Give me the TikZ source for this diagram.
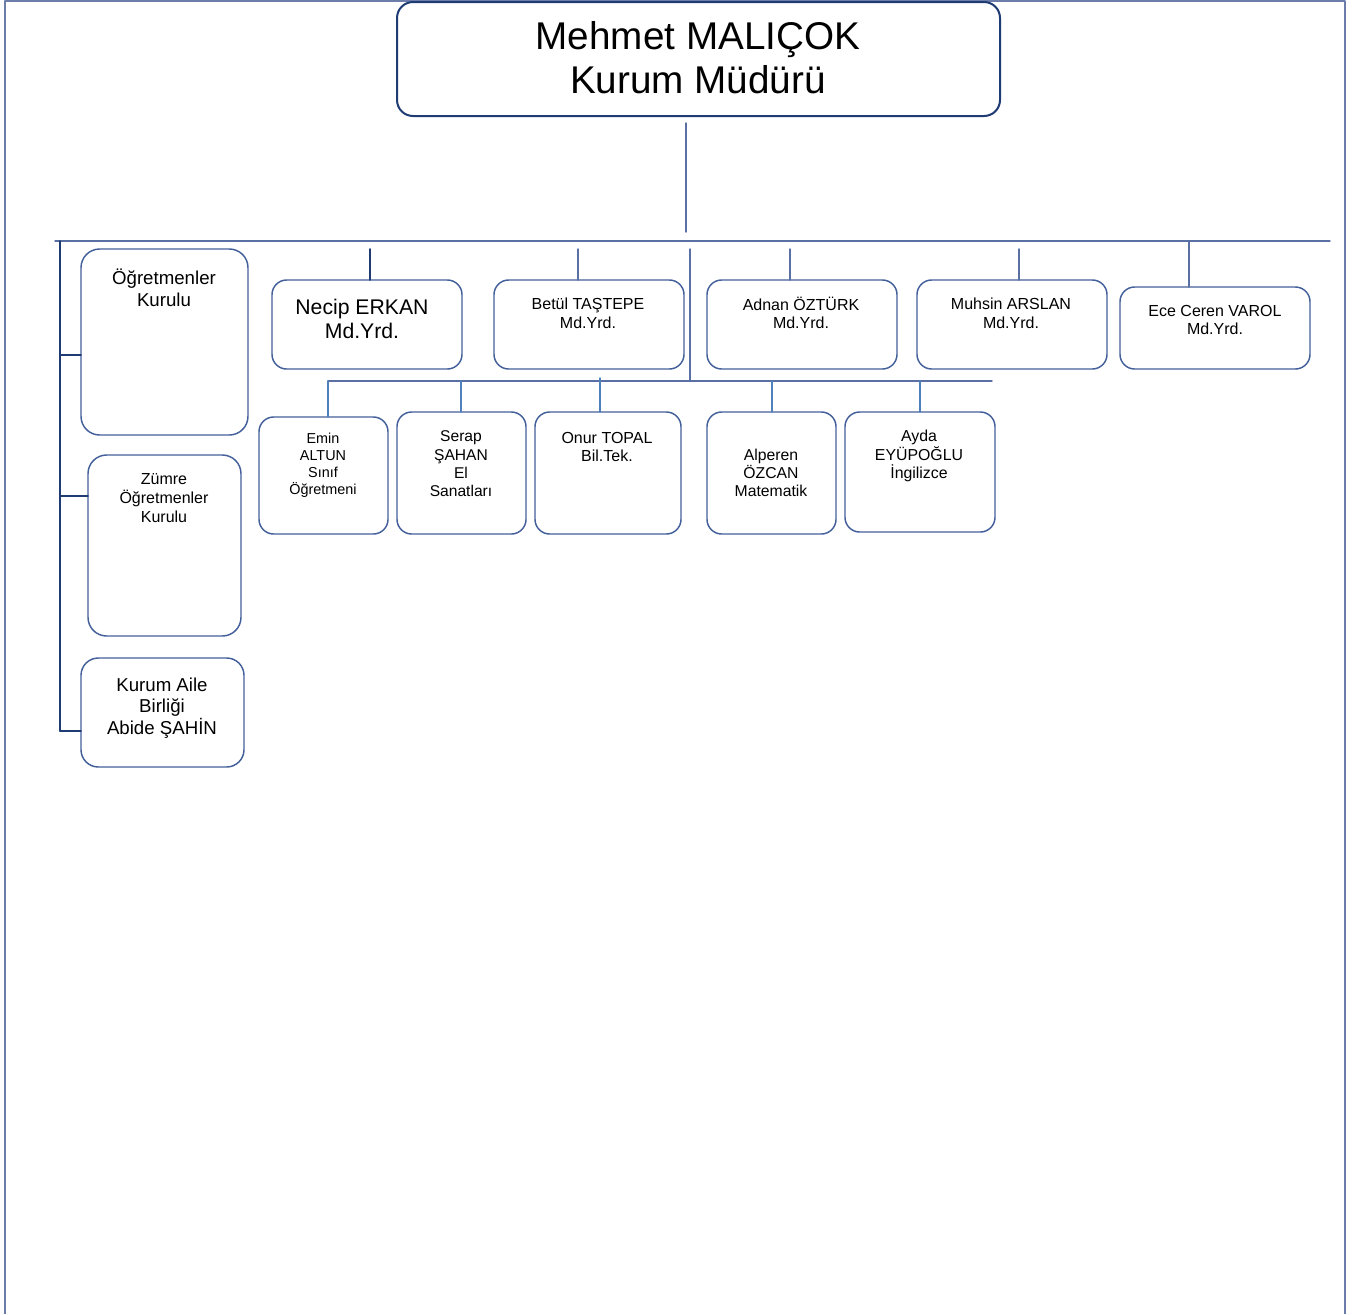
\documentclass[tikz,border=0pt]{standalone}
\usepackage{fontspec}
\setmainfont{Liberation Sans}
\definecolor{navy}{HTML}{1F3B73}
\definecolor{boxcol}{HTML}{44609A}
\definecolor{steel}{HTML}{5A6FA3}
\definecolor{lightblue}{HTML}{4F81BD}
\definecolor{pagecol}{HTML}{6C7DAA}
\begin{document}
\begin{tikzpicture}[x=0.75pt, y=-0.75pt, line join=round, line cap=round,
		box/.style 2 args={draw=boxcol, line width=1.1pt, rounded corners=11pt,
			inner sep=0pt, outer sep=0pt, minimum width=#1*0.75pt, minimum height=#2*0.75pt},
		txt/.style={align=center, inner sep=0pt},
		dark/.style={draw=navy, line width=1.4pt},
		mid/.style={draw=steel, line width=1.1pt},
		low/.style={draw=lightblue, line width=1.1pt}]
	\useasboundingbox (0,0) rectangle (1353,1314);
	% page frame
	\draw[pagecol, line width=2pt, line cap=butt] (5,1314) -- (5,1) -- (1345,1) -- (1345,1314);
	% director
	\node[box={603}{114}, draw=navy, line width=1.5pt, rounded corners=12pt] (director) at (698.5,59) {};
	\node[txt, font=\fontsize{29}{33}\selectfont] (director-t) at (698,58) {Mehmet MALIÇOK\\Kurum Müdürü};
	% buses
	\coordinate (topbusL) at (55,241);
	\coordinate (topbusR) at (1330,241);
	\coordinate (gap) at (0,249);
	\coordinate (lowbusL) at (328,381);
	\coordinate (lowbusR) at (992,381);
	\coordinate (midA) at (690,249);
	\coordinate (midB) at (690,381);
	\coordinate (spineT) at (60,241);
	\coordinate (spineB) at (60,731);
	\coordinate (sp1) at (60,355);
	\coordinate (sp2) at (60,496);
	\coordinate (sp3) at (60,731);
	\draw[mid] ([xshift=-12.5*0.75pt, yshift=-7*0.75pt]director.south) -- (686,232);
	\draw[mid] (topbusL) -- (topbusR);
	\draw[mid] (midA) -- (midB);
	\draw[mid] (lowbusL) -- (lowbusR);
	\draw[dark] (spineT) -- (spineB);
	% left column
	\node[box={167}{186}, rounded corners=14pt] (ogk) at (164.5,342) {};
	\node[txt, font=\fontsize{14}{16.5}\selectfont] (ogk-t) at (164,288) {Öğretmenler\\Kurulu};
	\node[box={153}{181}, rounded corners=14pt] (zok) at (164.5,545.5) {};
	\node[txt, font=\fontsize{12}{14.2}\selectfont] (zok-t) at (164,498) {Zümre\\Öğretmenler\\Kurulu};
	\node[box={163}{109}, rounded corners=13pt] (aile) at (162.5,712.5) {};
	\node[txt, font=\fontsize{14}{16}\selectfont] (aile-t) at (162,708) {Kurum Aile\\Birliği\\Abide ŞAHİN};
	\draw[dark] (sp1) -- (sp1 -| ogk.west);
	\draw[dark] (sp2) -- (sp2 -| zok.west);
	\draw[dark] (sp3) -- (sp3 -| aile.west);
	% assistant principals
	\node[box={190}{89}] (necip) at (367,324.5) {};
	\node[txt, font=\fontsize{15.9}{18}\selectfont] (necip-t) at (362,319) {Necip ERKAN\\Md.Yrd.};
	\node[box={190}{89}] (betul) at (589,324.5) {};
	\node[txt, font=\fontsize{12}{14}\selectfont] (betul-t) at (588,313) {Betül TAŞTEPE\\Md.Yrd.};
	\node[box={190}{89}] (adnan) at (802,324.5) {};
	\node[txt, font=\fontsize{12}{14}\selectfont] (adnan-t) at (801,313) {Adnan ÖZTÜRK\\Md.Yrd.};
	\node[box={190}{89}] (muhsin) at (1012,324.5) {};
	\node[txt, font=\fontsize{12}{14}\selectfont] (muhsin-t) at (1011,313) {Muhsin ARSLAN\\Md.Yrd.};
	\node[box={190}{82}] (ece) at (1215,328) {};
	\node[txt, font=\fontsize{12}{14}\selectfont] (ece-t) at (1215,320) {Ece Ceren VAROL\\Md.Yrd.};
	\draw[dark] ([xshift=3*0.75pt]necip.north) -- ([xshift=3*0.75pt]necip.north |- gap);
	\foreach \b/\dx in {betul/-11, adnan/-12, muhsin/7} {
		\draw[mid] ([xshift=\dx*0.75pt]\b.north) -- ([xshift=\dx*0.75pt]\b.north |- gap);
	}
	\draw[mid] ([xshift=-26*0.75pt]ece.north) -- ([xshift=-26*0.75pt]ece.north |- topbusL);
	% teachers
	\node[box={129}{117}] (emin) at (323.5,475.5) {};
	\node[txt, font=\fontsize{10.8}{12.7}\selectfont] (emin-t) at (323,465) {Emin\\ALTUN\\Sınıf\\Öğretmeni};
	\node[box={129}{122}] (serap) at (461.5,473) {};
	\node[txt, font=\fontsize{11.7}{13.7}\selectfont] (serap-t) at (461,464) {Serap\\ŞAHAN\\El\\Sanatları};
	\node[box={146}{122}] (onur) at (608,473) {};
	\node[txt, font=\fontsize{12}{13.7}\selectfont] (onur-t) at (607,447) {Onur TOPAL\\Bil.Tek.};
	\node[box={129}{122}] (alperen) at (771.5,473) {};
	\node[txt, font=\fontsize{11.8}{13.7}\selectfont] (alperen-t) at (771,473) {Alperen\\ÖZCAN\\Matematik};
	\node[box={150}{120}] (ayda) at (920,472) {};
	\node[txt, font=\fontsize{11.9}{13.7}\selectfont] (ayda-t) at (919,456) {Ayda\\EYÜPOĞLU\\İngilizce};
	\foreach \b/\dx in {emin/4.5, serap/-0.5, alperen/0.5, ayda/0} {
		\draw[low] ([xshift=\dx*0.75pt]\b.north) -- ([xshift=\dx*0.75pt]\b.north |- lowbusL);
	}
	\draw[low] ([xshift=-8*0.75pt]onur.north) -- ++(0,-34);
\end{tikzpicture}
\end{document}
